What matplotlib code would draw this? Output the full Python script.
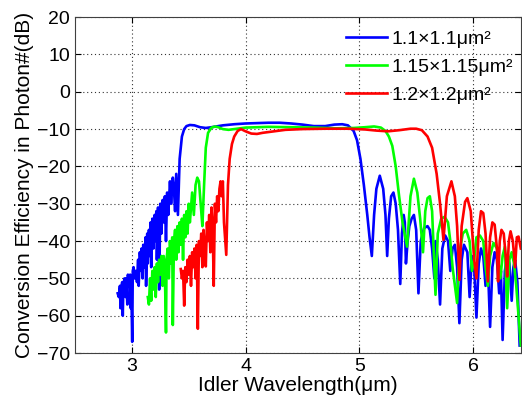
import numpy as np
import matplotlib.pyplot as plt

plt.rcParams["font.family"] = ["Liberation Sans", "DejaVu Sans"]

# values
blue_x = [2.875, 2.885, 2.895, 2.90, 2.905, 2.915, 2.92, 2.925, 2.935, 2.945, 2.95, 2.96, 2.965,
          2.975, 2.985, 2.99, 2.995, 3.003, 3.008, 3.015, 3.025, 3.035, 3.045, 3.055, 3.06, 3.07,
          3.08, 3.085, 3.095, 3.10, 3.11, 3.12, 3.125, 3.135, 3.14, 3.15, 3.155, 3.165, 3.17, 3.18,
          3.19, 3.20, 3.205, 3.215, 3.22, 3.23, 3.24, 3.25, 3.26, 3.27, 3.28, 3.29, 3.30, 3.31,
          3.32, 3.335, 3.345, 3.36, 3.37, 3.38, 3.39, 3.405, 3.42, 3.44, 3.46, 3.48, 3.51,
          3.55, 3.60, 3.65, 3.70, 3.80, 3.90, 4.00, 4.10, 4.20, 4.30, 4.40, 4.50, 4.60, 4.70,
          4.78, 4.85, 4.90, 4.95, 4.98, 5.01, 5.04, 5.07, 5.09, 5.11, 5.13, 5.15, 5.18, 5.21,
          5.23, 5.245, 5.26, 5.28, 5.30, 5.32, 5.34, 5.36, 5.375, 5.39, 5.40, 5.41, 5.425, 5.44,
          5.46, 5.48, 5.50, 5.52, 5.54, 5.57, 5.60, 5.62, 5.64, 5.66, 5.67, 5.69, 5.71, 5.73,
          5.755, 5.78, 5.80, 5.82, 5.84, 5.86, 5.88, 5.90, 5.92, 5.95, 5.97, 5.99, 6.01, 6.03,
          6.05, 6.07, 6.09, 6.11, 6.13, 6.15, 6.17, 6.19, 6.21, 6.23, 6.245, 6.26, 6.28, 6.30,
          6.32, 6.34, 6.355, 6.37, 6.39, 6.41]
blue_y = [-54, -55, -52, -58, -53, -51, -60, -52, -50, -55, -50, -57, -49,
          -52, -49, -58, -52, -67, -48, -47, -50, -48, -51, -45, -52, -43,
          -48, -42, -50, -41, -47, -39, -52, -38, -46, -37, -44, -35, -47, -34,
          -42, -33, -40, -32, -45, -31, -53, -30, -38, -29, -35, -28, -40, -27,
          -33, -24, -30, -23, -26, -32, -22, -33, -18, -12, -10, -9.2, -8.9,
          -9.0, -9.5, -9.7, -9.5, -9.0, -8.7, -8.5, -8.4, -8.3, -8.3, -8.5, -8.8, -9.2, -9.2,
          -8.8, -8.7, -9.0, -10.5, -13, -18, -25, -33, -39, -44, -33, -26, -22.5, -26,
          -33, -44, -34, -28, -27, -30, -37, -51.5, -38, -33, -35, -46, -40, -36,
          -34, -33, -37, -54, -40, -36.5, -36, -37, -42, -50, -40, -45, -57, -42,
          -38.5, -40, -48, -42, -41, -47, -62, -45, -41, -43, -55, -44, -47, -60.5,
          -46, -42, -44, -52, -46, -63, -47, -43, -45, -54, -48, -66.5, -48, -44,
          -46, -56, -47, -45, -51, -68]

green_x = [3.14, 3.15, 3.16, 3.17, 3.18, 3.19, 3.20, 3.21, 3.22, 3.23, 3.24, 3.25, 3.26, 3.27,
           3.28, 3.29, 3.30, 3.305, 3.315, 3.325, 3.335, 3.345, 3.355, 3.36, 3.37, 3.38, 3.39,
           3.40, 3.41, 3.42, 3.43, 3.44, 3.45, 3.46, 3.47, 3.48, 3.49, 3.50, 3.51, 3.53, 3.545,
           3.56, 3.575, 3.59, 3.605, 3.62, 3.635, 3.65, 3.67, 3.70, 3.73, 3.76, 3.80, 3.85, 3.90,
           4.00, 4.20, 4.40, 4.60, 4.80, 4.95, 5.05, 5.13, 5.19, 5.23, 5.26, 5.29, 5.32, 5.35,
           5.38, 5.42, 5.45, 5.48, 5.51, 5.535, 5.56, 5.58, 5.60, 5.62, 5.64, 5.67, 5.69, 5.72,
           5.75, 5.78, 5.80, 5.82, 5.86, 5.88, 5.91, 5.94, 5.97, 5.99, 6.01, 6.03, 6.06, 6.09,
           6.11, 6.13, 6.15, 6.18, 6.21, 6.24, 6.26, 6.28, 6.30, 6.32, 6.34, 6.36, 6.38, 6.40, 6.42]
green_y = [-55, -57, -50, -56, -48, -53, -47, -55, -46, -51, -45, -49, -44, -52,
           -44, -48, -64.5, -45, -42, -50, -40, -46, -39, -62.5, -40, -37, -45,
           -36, -43, -35, -41, -34, -45, -33, -39, -32, -38, -30, -35, -27, -33,
           -25, -23, -24, -30, -36, -25, -15, -11, -9.6, -9.3, -9.5, -10.0, -10.2, -10.0,
           -9.6, -9.4, -9.5, -9.6, -9.8, -9.7, -9.5, -9.3, -9.6, -10.5, -12, -14.5, -20, -28,
           -35, -41.5, -28, -23.3, -27, -34, -43, -32, -28.5, -28, -32, -54.4, -38, -34,
           -33.5, -35, -40, -47, -56.6, -43, -38, -37, -40, -48, -45, -39, -38.5, -40,
           -47, -52, -44, -40.5, -42, -50, -44, -41.5, -58, -45, -43, -46, -52, -60, -68]

red_x = [3.43, 3.44, 3.45, 3.46, 3.47, 3.48, 3.49, 3.50, 3.51, 3.52, 3.53, 3.54, 3.55, 3.56,
         3.57, 3.58, 3.59, 3.60, 3.61, 3.62, 3.63, 3.64, 3.65, 3.66, 3.67, 3.68, 3.69, 3.70,
         3.71, 3.72, 3.73, 3.74, 3.75, 3.76, 3.77, 3.78, 3.79, 3.80, 3.81, 3.83, 3.845, 3.86,
         3.88, 3.90, 3.93, 3.96, 4.00, 4.05, 4.10, 4.15, 4.25, 4.35, 4.50, 4.70, 4.90, 5.05,
         5.15, 5.25, 5.35, 5.45, 5.50, 5.55, 5.60, 5.64, 5.68, 5.71, 5.74, 5.77, 5.81, 5.84,
         5.86, 5.88, 5.90, 5.93, 5.95, 5.98, 6.01, 6.03, 6.05, 6.07, 6.09, 6.11, 6.13, 6.15,
         6.17, 6.19, 6.21, 6.22, 6.235, 6.25, 6.27, 6.29, 6.30, 6.315, 6.33, 6.35, 6.37, 6.385,
         6.40, 6.42]
red_y = [-47.5, -50, -48, -57.3, -47, -51, -45, -49, -44, -52, -43, -47, -42, -50,
         -41, -63.5, -40, -44, -38, -47, -37, -42, -46.8, -35, -40, -33, -43, -31,
         -36, -52, -30, -35, -28, -32, -26, -24, -28, -24, -35, -43.7, -25, -18,
         -14, -12, -10.5, -10.0, -10.6, -11.2, -11.3, -11.0, -10.6, -10.2, -10.0, -9.9, -9.9, -10.1,
         -10.4, -10.6, -10.3, -9.9, -9.9, -10.3, -12, -15, -22, -30, -39.7, -28, -24, -28,
         -36, -50.4, -36, -29.5, -28.5, -32, -45, -50, -37, -32, -32.5, -38, -50.8, -39,
         -35, -35.6, -42, -50.8, -40, -37, -38, -45, -49.5, -40, -37.4, -40, -47, -39,
         -38.8, -42]

labels = ["1.1×1.1μm²", "1.15×1.15μm²", "1.2×1.2μm²"]

fig = plt.figure(figsize=(5.22, 3.98), dpi=100)
ax = fig.add_axes([0.1437, 0.113, 0.854, 0.844])

ax.plot(blue_x, blue_y, color=(0, 0, 1), lw=1.9, label=labels[0])
ax.plot(green_x, green_y, color=(0, 1, 0), lw=1.9, label=labels[1])
ax.plot(red_x, red_y, color=(1, 0, 0), lw=1.9, label=labels[2])

ax.set_xlim(2.5, 6.42)
ax.set_ylim(-70, 20)
ax.set_xticks([3, 4, 5, 6])
ax.set_yticks(np.arange(-70, 21, 10))
ax.grid(True, color="0.2", linestyle=(0, (1, 2.5)), lw=0.8)
ax.tick_params(direction="in", top=True, right=True, length=4, labelsize=14, width=0.8)
for s in ax.spines.values():
    s.set_color("0.25")

ax.set_xlabel("Idler Wavelength(μm)", fontsize=15, labelpad=1)
ax.set_ylabel("Conversion Efficiency in Photon#(dB)", fontsize=15, labelpad=2)

ax.legend(loc="upper right", frameon=False, fontsize=14, handlelength=2.1,
          handletextpad=0.25, labelspacing=0.55, borderaxespad=0.0,
          bbox_to_anchor=(1.0, 0.985))

fig.savefig("out.png", dpi=100)
